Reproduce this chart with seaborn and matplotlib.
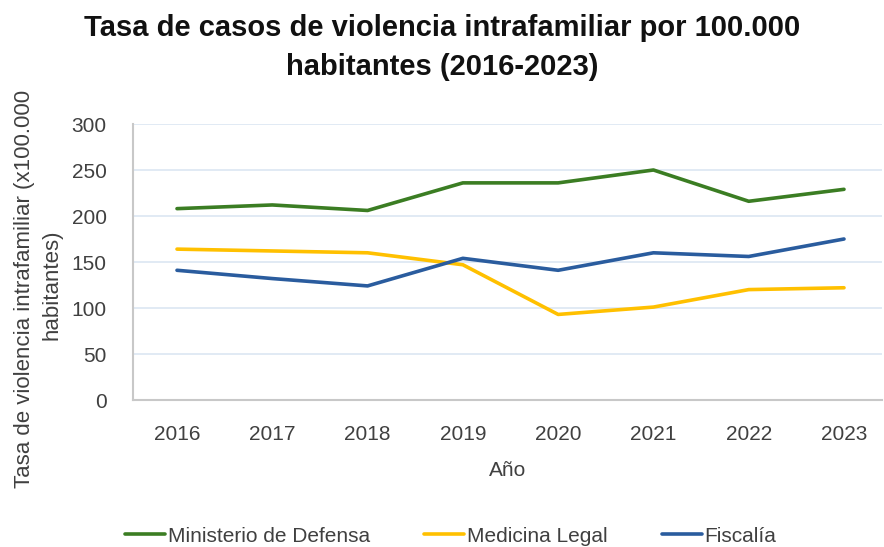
import matplotlib
matplotlib.use("Agg")
import matplotlib.pyplot as plt
import seaborn as sns
import pandas as pd
from matplotlib.lines import Line2D

years = ["2016", "2017", "2018", "2019", "2020", "2021", "2022", "2023"]
ministerio = [208, 212, 206, 236, 236, 250, 216, 229]
medicina = [164, 162, 160, 147, 93, 101, 120, 122]
fiscalia = [141, 132, 124, 154, 141, 160, 156, 175]
series_names = ["Ministerio de Defensa", "Medicina Legal", "Fiscalía"]
colors = ["#3B7D23", "#FFC000", "#2A5C9E"]

df = pd.DataFrame({"Año": years * 3,
                   "valor": ministerio + medicina + fiscalia,
                   "serie": sum([[n] * len(years) for n in series_names], [])})
df["x"] = df["Año"].map({y: i for i, y in enumerate(years)})

sns.set_style("white")
plt.rcParams["font.family"] = ["Liberation Sans", "DejaVu Sans"]

fig = plt.figure(figsize=(8.84, 5.47), dpi=100)
ax = fig.add_axes([133/884, 1 - 400/547, (882-133)/884, (400-124)/547])

sns.lineplot(data=df, x="x", y="valor", hue="serie", palette=colors,
             hue_order=series_names, linewidth=2.6, ax=ax, legend=False)

ax.set_ylim(0, 300)
ax.set_yticks(range(0, 301, 50))
step = (844 - 177) / 7
ax.set_xlim(-(177 - 133) / step, 7 + (882 - 844) / step)
ax.set_xticks(range(len(years)))
ax.set_xticklabels(years)
ax.yaxis.grid(True, color="#DCE6F2", linewidth=1.2)
ax.set_axisbelow(True)
for s in ["top", "right"]:
    ax.spines[s].set_visible(False)
for s in ["left", "bottom"]:
    ax.spines[s].set_color("#C8C8C8")
    ax.spines[s].set_linewidth(1.5)
ax.tick_params(axis="both", labelsize=15, length=0)
ax.tick_params(axis="x", pad=18)
ax.tick_params(axis="y", pad=19)
for lbl in ax.get_xticklabels() + ax.get_yticklabels():
    lbl.set_color("#404040")

ax.set_ylabel("")
ax.set_xlabel("Año", fontsize=15, color="#404040", labelpad=12)
fig.text(25/884, 1 - 289/547, "Tasa de violencia intrafamiliar (x100.000",
         rotation=90, ha="center", va="center", fontsize=16, color="#404040")
fig.text(52/884, 1 - 285/547, "habitantes)",
         rotation=90, ha="center", va="center", fontsize=16, color="#404040")

fig.text(0.5, 1 - 14/547,
         "Tasa de casos de violencia intrafamiliar por 100.000\nhabitantes (2016-2023)",
         ha="center", va="top", fontsize=21, fontweight="bold", linespacing=1.5,
         color="#111111")

handles = [Line2D([], [], color=c, linewidth=2.6) for c in colors]
fig.legend(handles, series_names, loc="center", ncol=3, frameon=False,
           fontsize=15, bbox_to_anchor=(451/884, 1 - 536/547), handlelength=1.9,
           handletextpad=0.15, columnspacing=2.6, labelcolor="#404040")

fig.savefig("out.png", dpi=100)
